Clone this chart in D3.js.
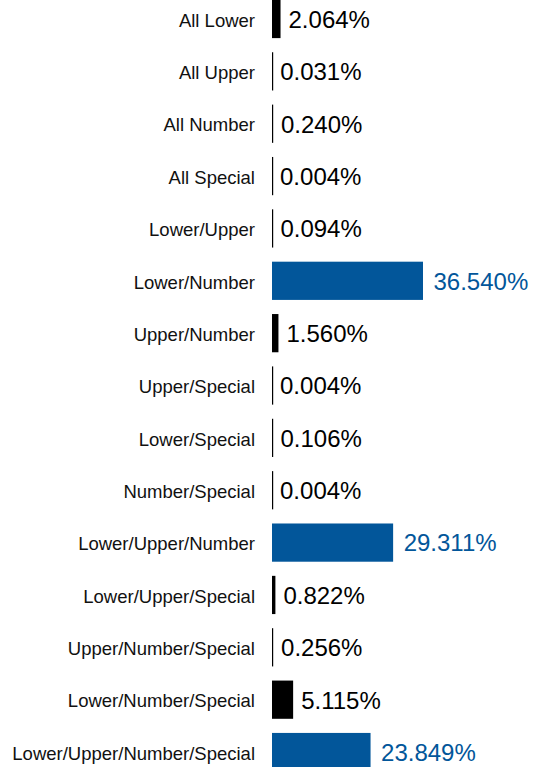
<!DOCTYPE html>
<html><head><meta charset="utf-8">
<script src="https://cdn.jsdelivr.net/npm/d3@7"></script>
<style>html,body{margin:0;padding:0;background:#fff;overflow:hidden}</style>
</head><body>
<svg id="chart" width="537" height="767"></svg>
<script>
const categories = ["All Lower","All Upper","All Number","All Special","Lower/Upper","Lower/Number","Upper/Number","Upper/Special","Lower/Special","Number/Special","Lower/Upper/Number","Lower/Upper/Special","Upper/Number/Special","Lower/Number/Special","Lower/Upper/Number/Special"];
const values = [2.064,0.031,0.240,0.004,0.094,36.540,1.560,0.004,0.106,0.004,29.311,0.822,0.256,5.115,23.849];
const highlightThreshold = 20;

const svg = d3.select("#chart");
const x0 = 272;
const x = d3.scaleLinear().domain([0, 36.54]).range([x0, 423]);
const step = 52.36;
const y = d3.scaleBand().domain(categories)
  .range([19 - step/2, 19 - step/2 + step*categories.length])
  .paddingInner(0.27).paddingOuter(0.135);
const blue = "#02569a";
const col = v => v >= highlightThreshold ? blue : "#000";

const data = categories.map((c,i)=>({c, v: values[i]}));
const g = svg.append("g");
g.selectAll("rect").data(data).join("rect")
  .attr("x", x0)
  .attr("y", d => y(d.c))
  .attr("width", d => Math.max(x(d.v)-x0, 1.2))
  .attr("height", y.bandwidth())
  .attr("fill", d => col(d.v));

g.selectAll("text.val").data(data).join("text").attr("class","val")
  .attr("x", d => x(d.v) + (d.v >= highlightThreshold ? 10.5 : 8))
  .attr("y", d => y(d.c) + y.bandwidth()/2)
  .attr("dy", "0.37em")
  .attr("font-family", "'Liberation Sans', Arial, sans-serif")
  .attr("font-size", 24)
  .attr("fill", d => col(d.v))
  .text(d => d.v.toFixed(3) + "%");

g.selectAll("text.cat").data(data).join("text").attr("class","cat")
  .attr("x", 255)
  .attr("y", d => y(d.c) + y.bandwidth()/2)
  .attr("dy", "0.42em")
  .attr("text-anchor", "end")
  .attr("font-family", "'Liberation Sans', Arial, sans-serif")
  .attr("font-size", 18.5)
  .attr("fill", "#111")
  .text(d => d.c);
</script>
</body></html>
